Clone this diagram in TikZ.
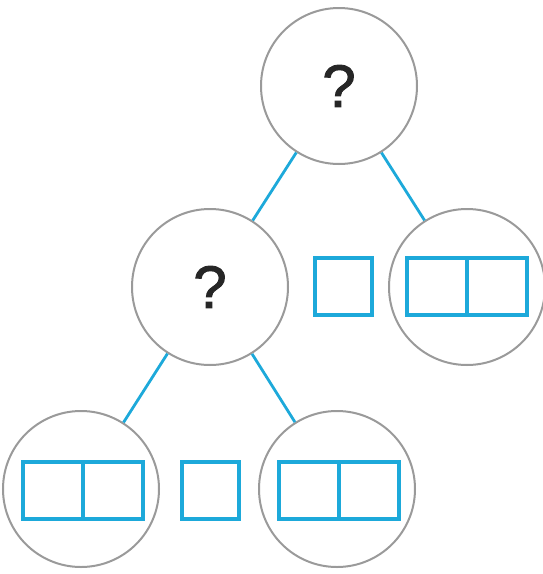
\documentclass[tikz,border=0pt]{standalone}
\usepackage{fontspec}
\setmainfont{Liberation Sans}
\newfontfamily\markfont[FakeBold=1.6]{Liberation Sans}
\usetikzlibrary{positioning}

\definecolor{linkblue}{HTML}{1DA9DA}
\definecolor{ringgray}{HTML}{9A9A9A}

\tikzset{
    cell/.style={rectangle, draw=linkblue, line width=4pt, minimum width=60pt, minimum height=57pt, inner sep=0pt, outer sep=0pt},
    single/.style={cell, minimum width=57pt},
}

\begin{document}
\begin{tikzpicture}[x=1pt, y=-1pt]
            \useasboundingbox (0,0) rectangle (542,574);

            \begin{scope}[
                    every node/.style={circle, draw=ringgray, line width=2pt, minimum size=156pt, inner sep=0pt, text=black!85, font=\markfont\fontsize{60}{60}\selectfont},
                ]

                \node (root) at (339,86) {?};
                \node (lft) at (210,287) {?};
                \node (rgt) at (467,287) {};
                \node (ll) at (81,489) {};
                \node (lr) at (337,489) {};
            \end{scope}

            \draw[linkblue, line width=2.8pt] (root) edge (lft);
            \draw[linkblue, line width=2.8pt] (root) edge (rgt);
            \draw[linkblue, line width=2.8pt] (lft) edge (ll);
            \draw[linkblue, line width=2.8pt] (lft) edge (lr);

            % keys held between the branches
            \node[single] (k1) at (343,286.5) {};
            \node[single] (k2) at (210.5,490.5) {};

            % full leaves
            \node[cell] (r1) at (437,286.5) {};
            \node[cell, right=0pt of r1] (r2) {};
            \node[cell] (a1) at (53,490.5) {};
            \node[cell, right=0pt of a1] (a2) {};
            \node[cell] (b1) at (309,490.5) {};
            \node[cell, right=0pt of b1] (b2) {};

        \end{tikzpicture}
\end{document}
